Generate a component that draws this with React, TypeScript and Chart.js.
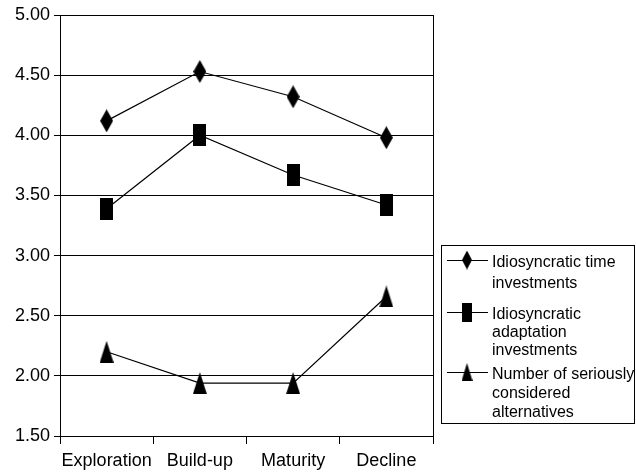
import React, { useEffect, useRef } from "react";
import { Chart, registerables } from "chart.js";

Chart.register(...registerables);

const categories = ["Exploration", "Build-up", "Maturity", "Decline"];
const timeInvestments = [4.12, 4.53, 4.32, 3.98];
const adaptationInvestments = [3.39, 4.0, 3.67, 3.42];
const seriousAlternatives = [2.2, 1.94, 1.94, 2.66];
const seriesLabels = [
  "Idiosyncratic time investments",
  "Idiosyncratic adaptation investments",
  "Number of seriously considered alternatives",
];
const legendLines = [
  ["Idiosyncratic time", "investments"],
  ["Idiosyncratic", "adaptation", "investments"],
  ["Number of seriously", "considered", "alternatives"],
];
const yMin = 1.5;
const yMax = 5.0;
const yStep = 0.5;

const FONT = '"Liberation Sans", Arial, Helvetica, sans-serif';

function makeMarker(kind: string, w: number, h: number): HTMLCanvasElement {
  const c = document.createElement("canvas");
  c.width = w;
  c.height = h;
  const g = c.getContext("2d")!;
  g.fillStyle = "#000";
  g.beginPath();
  if (kind === "diamond") {
    g.moveTo(w / 2, 0);
    g.lineTo(w, h / 2);
    g.lineTo(w / 2, h);
    g.lineTo(0, h / 2);
    g.closePath();
    g.fill();
  } else if (kind === "square") {
    g.fillRect(0, 0, w, h);
  } else {
    g.moveTo(w / 2, 0);
    g.lineTo(w, h);
    g.lineTo(0, h);
    g.closePath();
    g.fill();
  }
  return c;
}

export default function App() {
  const ref = useRef<HTMLCanvasElement>(null);

  useEffect(() => {
    if (!ref.current) return;
    const markers = [
      makeMarker("diamond", 13, 23),
      makeMarker("square", 13, 22),
      makeMarker("triangle", 14, 22),
    ];
    const legendMarkers = [
      makeMarker("diamond", 10, 19),
      makeMarker("square", 10, 19),
      makeMarker("triangle", 11, 18),
    ];
    const series = [timeInvestments, adaptationInvestments, seriousAlternatives];

    const rightBorder = {
      id: "rightBorder",
      afterDraw(chart: any) {
        const { ctx, chartArea } = chart;
        ctx.save();
        ctx.strokeStyle = "#000";
        ctx.lineWidth = 1;
        ctx.beginPath();
        const x = Math.round(chartArea.right) + 0.5;
        ctx.moveTo(x, chartArea.top);
        ctx.lineTo(x, chartArea.bottom);
        ctx.stroke();
        ctx.restore();
      },
    };

    const legendBox = {
      id: "legendBox",
      afterDraw(chart: any) {
        const { ctx } = chart;
        ctx.save();
        ctx.strokeStyle = "#000";
        ctx.lineWidth = 1;
        ctx.strokeRect(441.5, 245.5, 193, 178);
        const itemY = [260, 312, 372];
        const lineGaps = [21, 18, 19];
        ctx.font = `16px ${FONT}`;
        ctx.fillStyle = "#000";
        ctx.textBaseline = "alphabetic";
        ctx.textAlign = "left";
        legendLines.forEach((lines, i) => {
          const y = itemY[i];
          ctx.beginPath();
          ctx.moveTo(447, y + 0.5);
          ctx.lineTo(488, y + 0.5);
          ctx.stroke();
          const m = legendMarkers[i];
          ctx.drawImage(m, 467 - m.width / 2, y - m.height / 2);
          lines.forEach((t, j) => {
            ctx.fillText(t, 492, y + 7 + j * lineGaps[i]);
          });
        });
        ctx.restore();
      },
    };

    const chart = new Chart(ref.current, {
      type: "line",
      data: {
        labels: categories,
        datasets: series.map((d, i) => ({
          label: seriesLabels[i],
          data: d,
          borderColor: "#000",
          backgroundColor: "#000",
          borderWidth: 1.2,
          pointStyle: markers[i] as any,
          pointRadius: 8,
          tension: 0,
          fill: false,
        })),
      },
      options: {
        responsive: false,
        animation: false,
        layout: { padding: { left: 0, top: 15, right: 203, bottom: 0 } },
        plugins: { legend: { display: false }, tooltip: { enabled: false } },
        scales: {
          x: {
            type: "category",
            offset: true,
            grid: {
              display: true,
              offset: true,
              drawOnChartArea: false,
              drawTicks: true,
              tickLength: 8,
              tickColor: "#000",
              color: "#000",
            },
            border: { display: true, color: "#000", width: 1 },
            ticks: {
              color: "#000",
              font: { family: FONT, size: 18 },
              padding: 6,
              maxRotation: 0,
              autoSkip: false,
            },
            afterFit: (scale: any) => {
              scale.height = 38;
            },
          },
          y: {
            min: yMin,
            max: yMax,
            grid: {
              color: "#000",
              lineWidth: 1,
              drawTicks: true,
              tickLength: 6,
              tickColor: "#000",
            },
            border: { display: true, color: "#000", width: 1 },
            ticks: {
              stepSize: yStep,
              color: "#000",
              padding: 4,
              font: { family: FONT, size: 18 },
              callback: (v: any) => Number(v).toFixed(2),
            },
            afterFit: (scale: any) => {
              scale.width = 60;
            },
          },
        },
      },
      plugins: [rightBorder, legendBox],
    });
    return () => chart.destroy();
  }, []);

  return (
    <canvas
      ref={ref}
      width={636}
      height={474}
      style={{ position: "absolute", left: 0, top: 0, width: 636, height: 474 }}
    />
  );
}
